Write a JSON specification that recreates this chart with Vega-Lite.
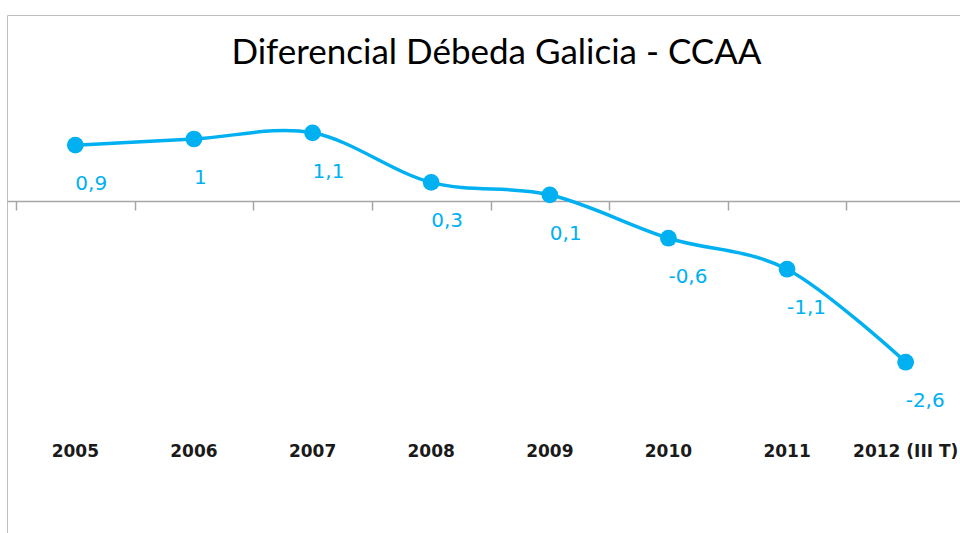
{
  "$schema": "https://vega.github.io/schema/vega-lite/v6.json",
  "autosize": {"type": "none"},
  "padding": {"left": 7, "top": 15, "right": 0, "bottom": 0},
  "width": 967,
  "height": 530,
  "background": "white",
  "title": {
    "text": "Diferencial Débeda Galicia - CCAA",
    "font": "Lato",
    "fontSize": 35,
    "fontWeight": "normal",
    "color": "#000000",
    "anchor": "middle",
    "frame": "group",
    "offset": -84,
    "baseline": "alphabetic",
    "dx": 6
  },
  "config": {"view": {"stroke": "#BFBFBF", "strokeWidth": 1}},
  "data": {
    "values": [
      {"year": "2005", "value": 0.9, "label": "0,9"},
      {"year": "2006", "value": 1.0, "label": "1"},
      {"year": "2007", "value": 1.1, "label": "1,1"},
      {"year": "2008", "value": 0.3, "label": "0,3"},
      {"year": "2009", "value": 0.1, "label": "0,1"},
      {"year": "2010", "value": -0.6, "label": "-0,6"},
      {"year": "2011", "value": -1.1, "label": "-1,1"},
      {"year": "2012 (III T)", "value": -2.6, "label": "-2,6"}
    ]
  },
  "layer": [
    {
      "mark": {"type": "line", "color": "#00B0F0", "strokeWidth": 3.5, "interpolate": "cardinal"},
      "encoding": {
        "x": {
          "field": "year", "type": "ordinal", "sort": null,
          "scale": {"type": "band", "paddingInner": 0, "paddingOuter": 0.076},
          "axis": {
            "orient": "bottom", "offset": -344, "labels": false, "title": null, "grid": false,
            "domainColor": "#A6A6A6", "domainWidth": 1.5,
            "tickColor": "#A6A6A6", "tickWidth": 1.5, "tickSize": 9, "tickBand": "extent"
          }
        },
        "y": {"field": "value", "type": "quantitative", "scale": {"domain": [-5.548, 3], "nice": false, "zero": false}, "axis": null}
      }
    },
    {
      "mark": {"type": "point", "filled": true, "opacity": 1, "color": "#00B0F0", "size": 280},
      "encoding": {
        "x": {"field": "year", "type": "ordinal", "sort": null, "scale": {"type": "band", "paddingInner": 0, "paddingOuter": 0.076}, "axis": null},
        "y": {"field": "value", "type": "quantitative", "scale": {"domain": [-5.548, 3], "nice": false, "zero": false}, "axis": null}
      }
    },
    {
      "mark": {"type": "text", "color": "#00B0F0", "font": "DejaVu Sans", "fontSize": 20, "align": "left", "baseline": "middle", "dy": 39},
      "encoding": {
        "text": {"field": "label"},
        "x": {
          "field": "year", "type": "ordinal", "sort": null,
          "scale": {"type": "band", "paddingInner": 0, "paddingOuter": 0.076},
          "axis": {
            "orient": "bottom", "offset": -104, "domain": false, "ticks": false, "tickSize": 0,
            "labelPadding": 2, "labelAngle": 0, "labelFont": "DejaVu Sans", "labelFontSize": 17,
            "labelFontWeight": "bold", "labelColor": "#1A1A1A", "title": null, "grid": false
          }
        },
        "y": {"field": "value", "type": "quantitative", "scale": {"domain": [-5.548, 3], "nice": false, "zero": false}, "axis": null}
      }
    }
  ],
  "resolve": {"axis": {"x": "independent"}}
}
